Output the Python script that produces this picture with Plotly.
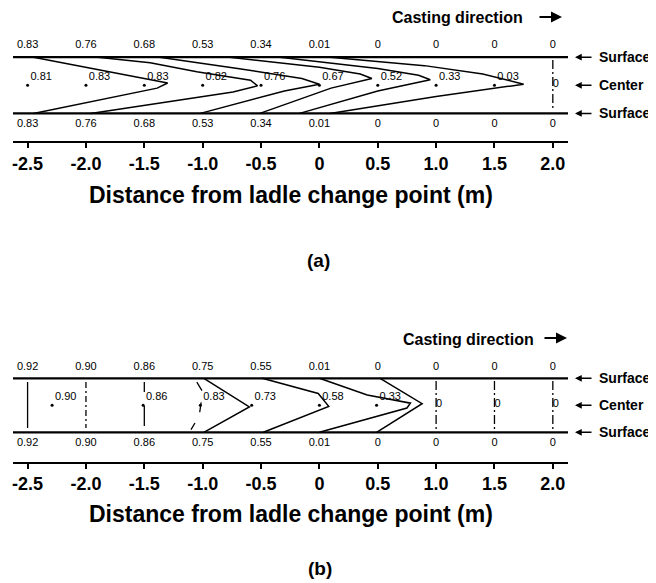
import plotly.graph_objects as go

# ---------------- data ----------------
POSITIONS = [-2.5, -2.0, -1.5, -1.0, -0.5, 0.0, 0.5, 1.0, 1.5, 2.0]
TICK_LABELS = ["-2.5", "-2.0", "-1.5", "-1.0", "-0.5", "0", "0.5", "1.0", "1.5", "2.0"]

# panel (a)
A_SURFACE_TOP = [0.83, 0.76, 0.68, 0.53, 0.34, 0.01, 0, 0, 0, 0]
A_SURFACE_BOTTOM = [0.83, 0.76, 0.68, 0.53, 0.34, 0.01, 0, 0, 0, 0]
A_CENTER_X = [-2.5, -2.0, -1.5, -1.0, -0.5, 0.0, 0.5, 1.0, 1.5]
A_CENTER = [0.81, 0.83, 0.83, 0.82, 0.76, 0.67, 0.52, 0.33, 0.03]
A_ZERO_X = [2.0]
# iso-lines (x in m, y: 0 = bottom surface, 1 = top surface)
A_LINES = [
    ([-2.45, -1.88, -1.56, -1.30, -1.39, -2.45], [1, 0.77, 0.65, 0.54, 0.45, 0]),
    ([-1.90, -1.45, -1.05, -0.59, -0.53, -0.74, -1.96], [1, 0.90, 0.74, 0.59, 0.49, 0.38, 0]),
    ([-1.37, -0.70, -0.15, 0.00, -0.30, -1.02], [1, 0.80, 0.62, 0.52, 0.40, 0]),
    ([-0.77, 0.00, 0.35, 0.45, 0.10, -0.51], [1, 0.82, 0.70, 0.62, 0.45, 0]),
    ([-0.34, 0.50, 0.85, 0.95, 0.50, -0.17], [1, 0.80, 0.68, 0.60, 0.40, 0]),
    ([0.09, 0.90, 1.40, 1.75, 1.00, 0.09], [1, 0.85, 0.70, 0.52, 0.30, 0]),
]

# panel (b)
B_SURFACE_TOP = [0.92, 0.90, 0.86, 0.75, 0.55, 0.01, 0, 0, 0, 0]
B_SURFACE_BOTTOM = [0.92, 0.90, 0.86, 0.75, 0.55, 0.01, 0, 0, 0, 0]
B_CENTER_X = [-2.29, -1.51, -1.02, -0.58, 0.0, 0.49]
B_CENTER = [0.90, 0.86, 0.83, 0.73, 0.58, 0.33]
B_ZERO_X = [1.0, 1.5, 2.0]
B_LINES = [
    ([-0.99, -0.60, -0.99], [1, 0.47, 0]),
    ([-0.49, -0.01, 0.08, -0.48], [1, 0.72, 0.48, 0]),
    ([0.0, 0.41, 0.78, 0.75, 0.0], [1, 0.69, 0.54, 0.45, 0]),
    ([0.52, 0.88, 0.49], [1, 0.53, 0]),
]
B_VERTICALS = [(-2.5, "solid"), (-2.0, "6px,3px,2px,3px"), (-1.5, "10px,14px,20px")]
B_SLANT = ([-1.05, -1.00, -1.03, -1.10], [0.93, 0.75, 0.30, 0.05])

X_MIN, X_MAX = -2.625, 2.13
FONT = "Liberation Sans"
VFONT = "Liberation Sans"
OFF = 8  # page body margin


def fmt(v):
    return "0" if v == 0 else f"{v:.2f}"


W, H = 656, 583


def PX(px):
    return (px - OFF) / W


def PY(py):
    return 1 - (py - OFF) / H


fig = go.Figure()


def add_panel(xa, ya, top, bottom, cx, cv, zero_x, lines):
    for yy in (0, 1):
        fig.add_trace(go.Scatter(x=[X_MIN, X_MAX], y=[yy, yy], mode="lines",
                                 line=dict(color="black", width=2.2),
                                 xaxis=xa, yaxis=ya, hoverinfo="skip"))
    for lx, ly in lines:
        fig.add_trace(go.Scatter(x=lx, y=ly, mode="lines",
                                 line=dict(color="black", width=1.5),
                                 xaxis=xa, yaxis=ya, hoverinfo="skip"))
    for zx in zero_x:
        fig.add_trace(go.Scatter(x=[zx, zx], y=[0.95, 0.06], mode="lines",
                                 line=dict(color="black", width=1.3, dash="9px,3px,2px,3px"),
                                 xaxis=xa, yaxis=ya, hoverinfo="skip"))
        fig.add_trace(go.Scatter(x=[zx], y=[0.52], mode="text", text=["0"],
                                 textposition="middle right",
                                 textfont=dict(family=VFONT, size=11, color="black"),
                                 xaxis=xa, yaxis=ya, hoverinfo="skip"))
    fig.add_trace(go.Scatter(x=POSITIONS, y=[1.21] * len(POSITIONS), mode="text",
                             text=[fmt(v) for v in top],
                             textfont=dict(family=VFONT, size=11, color="black"),
                             xaxis=xa, yaxis=ya, hoverinfo="skip"))
    fig.add_trace(go.Scatter(x=POSITIONS, y=[-0.2] * len(POSITIONS), mode="text",
                             text=[fmt(v) for v in bottom],
                             textfont=dict(family=VFONT, size=11, color="black"),
                             xaxis=xa, yaxis=ya, hoverinfo="skip"))
    fig.add_trace(go.Scatter(x=cx, y=[0.5] * len(cx), mode="markers+text",
                             text=[fmt(v) for v in cv], textposition="top right",
                             marker=dict(size=3, color="black"),
                             textfont=dict(family=VFONT, size=11, color="black"),
                             xaxis=xa, yaxis=ya, hoverinfo="skip"))


add_panel("x", "y", A_SURFACE_TOP, A_SURFACE_BOTTOM, A_CENTER_X, A_CENTER, A_ZERO_X, A_LINES)
add_panel("x2", "y2", B_SURFACE_TOP, B_SURFACE_BOTTOM, B_CENTER_X, B_CENTER, B_ZERO_X, B_LINES)

for vx, dash in B_VERTICALS:
    fig.add_trace(go.Scatter(x=[vx, vx], y=[0.93, 0.08], mode="lines",
                             line=dict(color="black", width=1.3, dash=dash),
                             xaxis="x2", yaxis="y2", hoverinfo="skip"))
fig.add_trace(go.Scatter(x=B_SLANT[0], y=B_SLANT[1], mode="lines",
                         line=dict(color="black", width=1.3, dash="10px,12px"),
                         xaxis="x2", yaxis="y2", hoverinfo="skip"))

xdom = [PX(13), PX(568)]
axis_common = dict(range=[X_MIN, X_MAX], showgrid=False, zeroline=False,
                   showline=True, linecolor="black", linewidth=2,
                   ticks="outside", ticklen=5, tickwidth=2, tickcolor="black",
                   tickvals=POSITIONS, ticktext=TICK_LABELS,
                   tickfont=dict(family=FONT, size=18, color="black", weight="bold"),
                   domain=xdom, fixedrange=True)
fig.update_layout(
    width=W, height=H, showlegend=False,
    margin=dict(l=0, r=0, t=0, b=0, autoexpand=False),
    paper_bgcolor="white", plot_bgcolor="white",
    xaxis=dict(anchor="y", **axis_common),
    xaxis2=dict(anchor="y2", **axis_common),
    yaxis=dict(domain=[PY(141), PY(30)],
               range=[(113.4 - 141) / 56.2, (113.4 - 30) / 56.2], visible=False),
    yaxis2=dict(domain=[PY(461.5), PY(350)],
                range=[(432.3 - 461.5) / 54, (432.3 - 350) / 54], visible=False),
)

ann = []


def bold(s):
    return dict(family=FONT, size=s, color="black", weight="bold")


for ypx in (195, 514):
    ann.append(dict(x=PX(290.5), y=PY(ypx), xref="paper", yref="paper",
                    text="Distance from ladle change point (m)", showarrow=False,
                    font=bold(23), xanchor="center", yanchor="middle"))
ann.append(dict(x=PX(318), y=PY(260), xref="paper", yref="paper", text="(a)",
                showarrow=False, font=bold(19), xanchor="center", yanchor="middle"))
ann.append(dict(x=PX(320), y=PY(568), xref="paper", yref="paper", text="(b)",
                showarrow=False, font=bold(19), xanchor="center", yanchor="middle"))
for cx_px, ypx, ax_end in ((457, 18, 562), (468, 339, 567)):
    ann.append(dict(x=PX(cx_px), y=PY(ypx), xref="paper", yref="paper",
                    text="Casting direction", showarrow=False, font=bold(16),
                    xanchor="center", yanchor="middle"))
    ann.append(dict(x=PX(ax_end), y=PY(ypx - 1), xref="paper", yref="paper", text="",
                    showarrow=True, ax=-24, ay=0, arrowhead=2, arrowsize=1,
                    arrowwidth=2.2, arrowcolor="black"))
for yref in ("y", "y2"):
    for yy, label, fs in ((1, "Surface", 14), (0.5, "Center", 14), (0, "Surface", 14)):
        ann.append(dict(x=PX(597), y=yy, xref="paper", yref=yref, text=label,
                        showarrow=False, xanchor="left", yanchor="middle", font=bold(fs)))
        ann.append(dict(x=PX(575), y=yy, xref="paper", yref=yref, text="",
                        showarrow=True, ax=18, ay=0, arrowhead=2, arrowsize=0.9,
                        arrowwidth=1.5, arrowcolor="black"))
fig.update_layout(annotations=ann)

fig.write_html("out.html")
